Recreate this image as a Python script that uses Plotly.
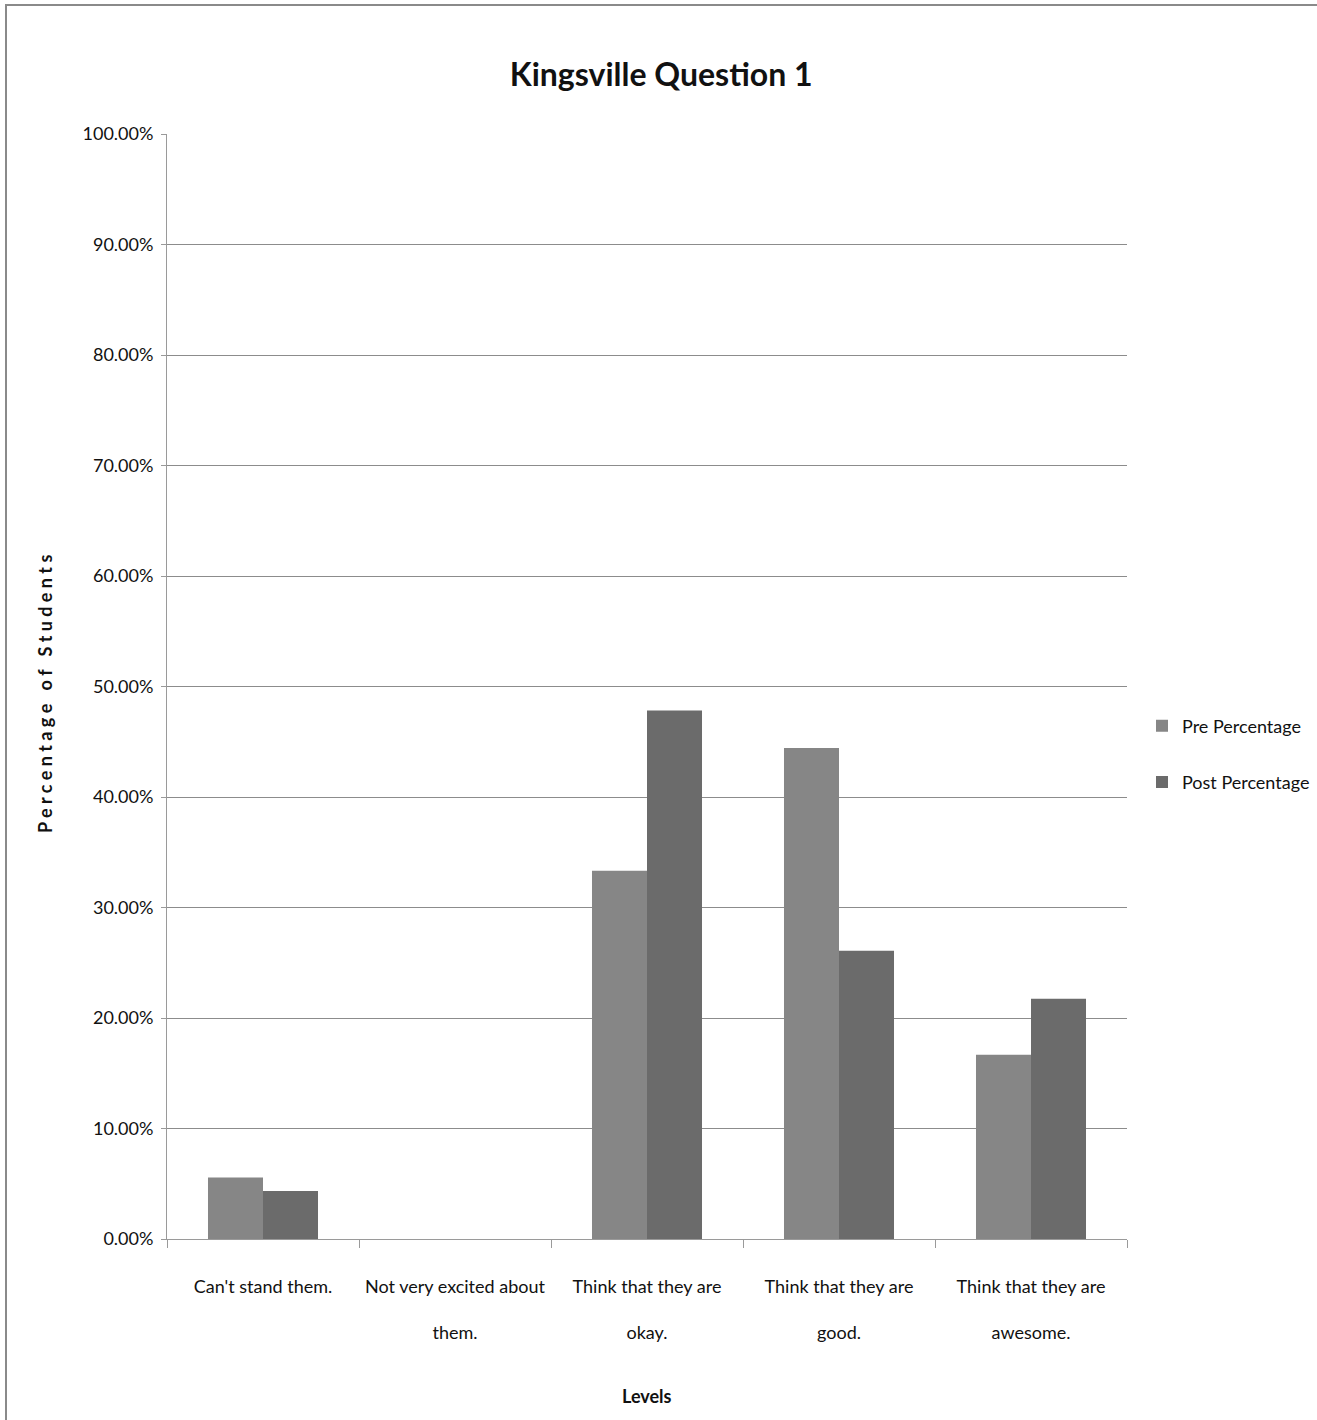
import plotly.graph_objects as go

# Survey responses for Kingsville, question 1
levels = [
    "Can't stand them.",
    "Not very excited about them.",
    "Think that they are okay.",
    "Think that they are good.",
    "Think that they are awesome.",
]
level_labels = [
    "Can't stand them.",
    "Not very excited about<br><br>them.",
    "Think that they are<br><br>okay.",
    "Think that they are<br><br>good.",
    "Think that they are<br><br>awesome.",
]
pre_pct = [0.0556, 0.0, 0.3333, 0.4444, 0.1667]
post_pct = [0.0435, 0.0, 0.4783, 0.2609, 0.2174]

W, H = 1317, 1420
L, R, T, B = 167, 1127, 134, 1239
pw, ph = R - L, B - T


def px(x):
    return (x - L) / pw


def py(y):
    return (B - y) / ph


FONT = "Lato, 'Open Sans', sans-serif"
INK = "#111111"

fig = go.Figure()
fig.add_trace(go.Bar(name="Pre Percentage", x=levels, y=pre_pct, legendgroup="pre",
                     marker=dict(color="#868686", line=dict(width=0))))
fig.add_trace(go.Bar(name="Post Percentage", x=levels, y=post_pct, legendgroup="post",
                     marker=dict(color="#6b6b6b", line=dict(width=0))))

fig.update_layout(
    width=W, height=H,
    margin=dict(l=L, r=W - R, t=T, b=H - B, autoexpand=False),
    paper_bgcolor="white", plot_bgcolor="white",
    barmode="group", bargap=0.427, bargroupgap=0,
    font=dict(family=FONT, size=18, color=INK),
    title=dict(text="<b>Kingsville Question 1</b>", x=0.502, xref="container",
               y=1 - 75 / H, yref="container", xanchor="center", yanchor="middle",
               font=dict(family=FONT, size=32, color=INK)),
    legend=dict(x=px(1142), y=py(754), xanchor="left", yanchor="middle",
                font=dict(family=FONT, size=18, color=INK),
                itemwidth=30, tracegroupgap=30, traceorder="grouped",
                bgcolor="rgba(0,0,0,0)"),
    showlegend=True,
)

fig.update_xaxes(
    showgrid=False, showline=True, linecolor="#9a9a9a", linewidth=1,
    ticks="outside", tickson="boundaries", ticklen=8, tickcolor="#9a9a9a",
    tickangle=0, tickvals=levels, ticktext=level_labels,
    ticklabelstandoff=31,
    tickfont=dict(family=FONT, size=18, color=INK),
)
fig.update_yaxes(
    range=[0, 1], dtick=0.1, tickformat=".2%",
    showgrid=True, gridcolor="#8c8c8c", gridwidth=1,
    showline=True, linecolor="#9a9a9a", linewidth=1,
    ticks="outside", ticklen=5, tickcolor="#9a9a9a",
    ticklabelstandoff=4,
    tickfont=dict(family=FONT, size=18, color=INK),
    zeroline=False,
)

# Axis titles
fig.add_annotation(text="<b>Levels</b>", x=0.5, y=py(1396),
                   xref="paper", yref="paper", showarrow=False,
                   xanchor="center", yanchor="middle",
                   font=dict(family=FONT, size=18, color=INK))
fig.add_annotation(text="<b>P e r c e n t a g e   o f   S t u d e n t s</b>",
                   x=px(45), y=py(694), xref="paper", yref="paper",
                   showarrow=False, textangle=-90,
                   xanchor="center", yanchor="middle",
                   font=dict(family=FONT, size=18, color=INK))

# Chart border (only the top and left edges fall inside the page)
fig.add_shape(type="rect", xref="paper", yref="paper",
              x0=px(6), x1=px(1330), y0=py(1430), y1=py(5),
              line=dict(color="#8a8a8a", width=2), fillcolor="rgba(0,0,0,0)")

fig.write_html("out.html")
